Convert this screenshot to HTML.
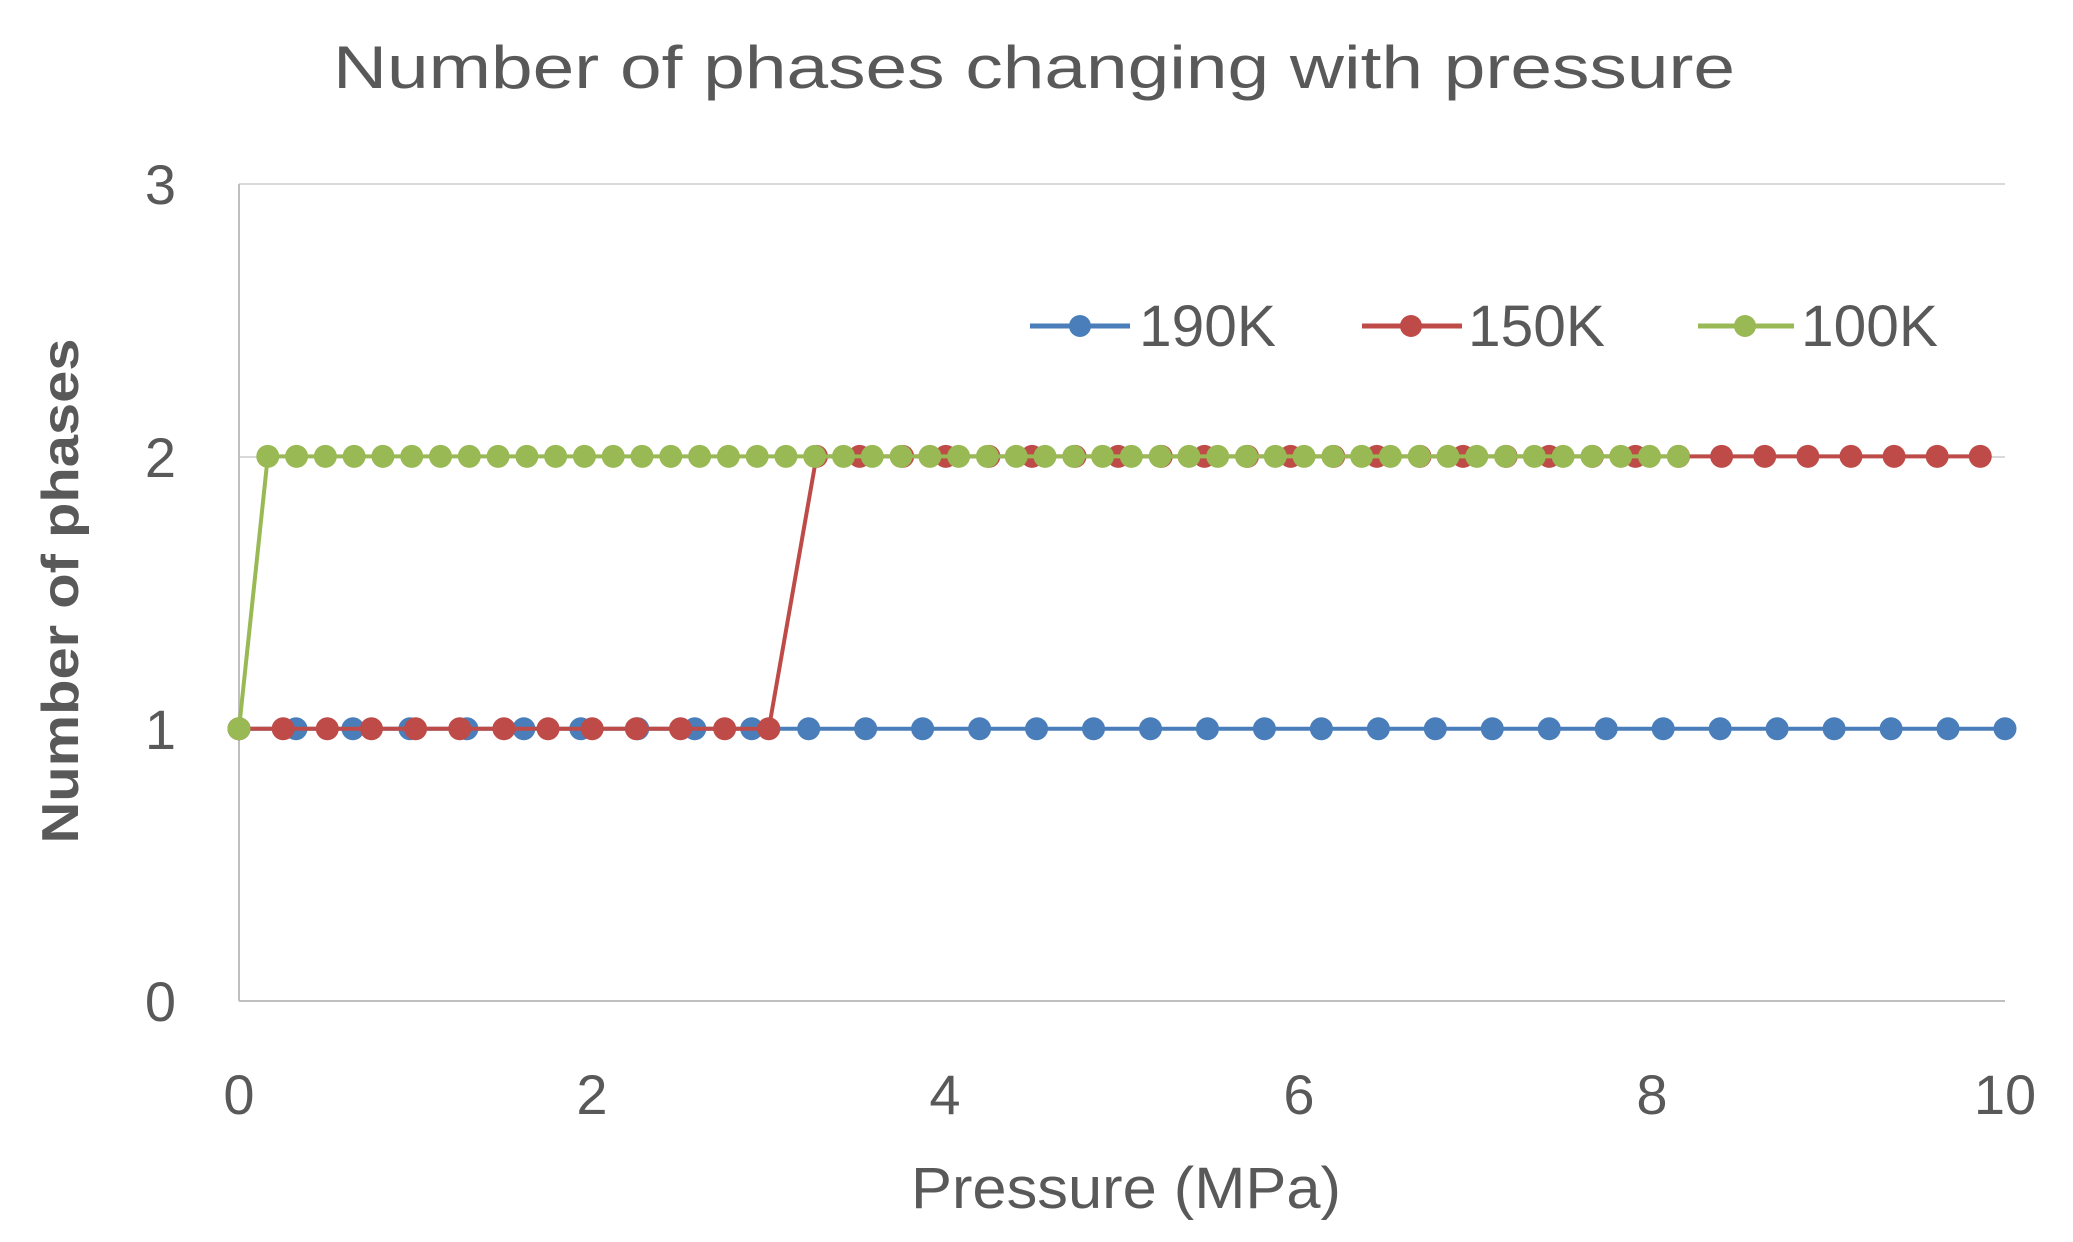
<!DOCTYPE html>
<html><head><meta charset="utf-8"><style>
html,body{margin:0;padding:0;background:#fff;}
svg{display:block;font-family:"Liberation Sans",sans-serif;}
</style></head><body>
<svg id="c" xmlns="http://www.w3.org/2000/svg" width="2073" height="1242" viewBox="0 0 2073 1242">
<rect width="2073" height="1242" fill="#fff"/>
<text x="1034" y="88" font-size="60" fill="#595959" text-anchor="middle" textLength="1402" lengthAdjust="spacingAndGlyphs">Number of phases changing with pressure</text>
<line x1="239" y1="184" x2="2005" y2="184" stroke="#d9d9d9" stroke-width="2"/>
<line x1="239" y1="457" x2="2005" y2="457" stroke="#d9d9d9" stroke-width="2"/>
<line x1="239" y1="729" x2="2005" y2="729" stroke="#d9d9d9" stroke-width="2"/>
<line x1="239" y1="184" x2="239" y2="1001" stroke="#bfbfbf" stroke-width="2"/>
<line x1="239" y1="1001" x2="2005" y2="1001" stroke="#bfbfbf" stroke-width="2"/>
<g font-size="56" fill="#595959" text-anchor="end">
<text x="176" y="204">3</text><text x="176" y="477">2</text><text x="176" y="749">1</text><text x="176" y="1021">0</text>
</g>
<g font-size="56" fill="#595959" text-anchor="middle">
<text x="239" y="1114">0</text><text x="592" y="1114">2</text><text x="945" y="1114">4</text><text x="1299" y="1114">6</text><text x="1652" y="1114">8</text><text x="2005" y="1114">10</text>
</g>
<text x="1126" y="1208" font-size="58" fill="#595959" text-anchor="middle" textLength="430" lengthAdjust="spacingAndGlyphs">Pressure (MPa)</text>
<text transform="translate(78,591) rotate(-90)" font-size="52" font-weight="bold" fill="#595959" text-anchor="middle" textLength="505" lengthAdjust="spacingAndGlyphs">Number of phases</text>
<g id="series"></g>
<g font-size="58" fill="#595959">
<line x1="1030" y1="326" x2="1130" y2="326" stroke="#4a7ebb" stroke-width="5"/><circle cx="1080" cy="326" r="11" fill="#4a7ebb"/>
<text x="1139" y="346" textLength="137" lengthAdjust="spacingAndGlyphs">190K</text>
<line x1="1362" y1="326" x2="1462" y2="326" stroke="#be4b48" stroke-width="5"/><circle cx="1411" cy="326" r="11" fill="#be4b48"/>
<text x="1468" y="346" textLength="137" lengthAdjust="spacingAndGlyphs">150K</text>
<line x1="1698" y1="326" x2="1794" y2="326" stroke="#98b954" stroke-width="5"/><circle cx="1745" cy="326" r="11" fill="#98b954"/>
<text x="1801" y="346" textLength="137" lengthAdjust="spacingAndGlyphs">100K</text>
</g>
</svg>
<script>
(function(){
var g=document.getElementById('series');var NS='http://www.w3.org/2000/svg';
function X(v){return 239+v*176.6;}function Y(v){return 1001-v*272.3;}
function draw(pts,col){
 var d=pts.map(function(p,i){return (i?'L':'M')+X(p[0]).toFixed(1)+' '+Y(p[1]).toFixed(1);}).join(' ');
 var pa=document.createElementNS(NS,'path');pa.setAttribute('d',d);pa.setAttribute('fill','none');pa.setAttribute('stroke',col);pa.setAttribute('stroke-width','4');g.appendChild(pa);
 pts.forEach(function(p){var c=document.createElementNS(NS,'circle');c.setAttribute('cx',X(p[0]));c.setAttribute('cy',Y(p[1]));c.setAttribute('r','11.5');c.setAttribute('fill',col);g.appendChild(c);});
}
var b=[];for(var k=0;k<=31;k++)b.push([k*10/31,1]);
var r=[];for(k=0;k<=12;k++)r.push([k*0.25,1]);for(k=0;k<=27;k++)r.push([3.27+k*(9.86-3.27)/27,2]);
var gr=[[0,1]];for(k=1;k<=50;k++)gr.push([k*0.163,2]);
draw(b,'#4a7ebb');draw(r,'#be4b48');draw(gr,'#98b954');
})();
</script>
</body></html>
